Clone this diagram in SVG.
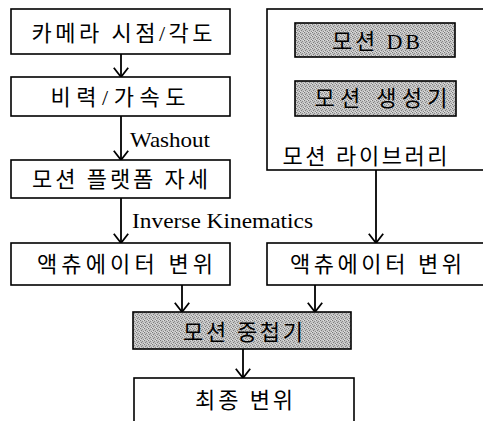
<svg xmlns="http://www.w3.org/2000/svg" width="483" height="421" viewBox="0 0 483 421">
<defs>
<style>
.box{fill:#fff;stroke:#000;stroke-width:1.6}
.gbox{fill:url(#dither);stroke:#000;stroke-width:1.6}
.t{font-family:"Liberation Serif","Noto Sans CJK KR",serif;font-size:22px;fill:#000;text-anchor:middle}
.lbl{font-family:"Liberation Serif","Noto Sans CJK KR",serif;font-size:21px;fill:#000}
.c{stroke:#000;stroke-width:1.8;fill:none;marker-end:url(#ah)}
</style>
<pattern id="dither" width="4" height="4" patternUnits="userSpaceOnUse">
<rect width="4" height="4" fill="#c4c4c4"/>
<rect x="0" y="0" width="1" height="1" fill="#7a7a7a"/>
<rect x="2" y="1" width="1" height="1" fill="#8a8a8a"/>
<rect x="1" y="2" width="1" height="1" fill="#808080"/>
<rect x="3" y="3" width="1" height="1" fill="#888"/>
<rect x="3" y="0" width="1" height="1" fill="#e0e0e0"/>
<rect x="0" y="3" width="1" height="1" fill="#e0e0e0"/>
</pattern>
<marker id="ah" viewBox="0 0 11 16" refX="10" refY="8" markerWidth="11" markerHeight="16" markerUnits="userSpaceOnUse" orient="auto">
<path d="M0.8,0.8 L10,8 L0.8,15.2" fill="none" stroke="#000" stroke-width="1.8"/>
</marker>
</defs>

<g id="connectors">
<line class="c" x1="121" y1="54" x2="121" y2="77"/>
<line class="c" x1="121" y1="116" x2="121" y2="160"/>
<line class="c" x1="121" y1="198" x2="121" y2="243"/>
<line class="c" x1="376" y1="170" x2="376" y2="243"/>
<line class="c" x1="182" y1="285" x2="182" y2="312"/>
<line class="c" x1="315" y1="285" x2="315" y2="312"/>
<line class="c" x1="243" y1="349" x2="243" y2="378"/>
<text class="lbl" x="130" y="147" textLength="80" lengthAdjust="spacingAndGlyphs">Washout</text>
<text class="lbl" x="132" y="228" textLength="181" lengthAdjust="spacingAndGlyphs">Inverse Kinematics</text>
</g>

<g id="camera">
<rect class="box" x="11" y="9" width="219" height="45"/>
<text class="t" x="122" y="41" textLength="181" lengthAdjust="spacing">카메라 시점/각도</text>
</g>
<g id="force">
<rect class="box" x="11" y="77" width="219" height="39"/>
<text class="t" x="118" y="105" textLength="135" lengthAdjust="spacing">비력/가속도</text>
</g>
<g id="platform">
<rect class="box" x="11" y="160" width="219" height="38"/>
<text class="t" x="120" y="187" textLength="176" lengthAdjust="spacing">모션 플랫폼 자세</text>
</g>
<g id="actuator-left">
<rect class="box" x="11" y="243" width="219" height="42"/>
<text class="t" x="125" y="272" textLength="176" lengthAdjust="spacing">액츄에이터 변위</text>
</g>

<g id="library">
<rect class="box" x="267" y="9" width="222" height="161"/>
<text class="t" x="365" y="164" textLength="165" lengthAdjust="spacing">모션 라이브러리</text>
</g>
<g id="motion-db">
<rect class="gbox" x="295" y="23" width="160" height="34"/>
<text class="t" x="376" y="49" textLength="88" lengthAdjust="spacing">모션 DB</text>
</g>
<g id="motion-gen">
<rect class="gbox" x="295" y="81" width="161" height="35"/>
<text class="t" x="381" y="106" textLength="133" lengthAdjust="spacing">모션 생성기</text>
</g>
<g id="actuator-right">
<rect class="box" x="267" y="243" width="222" height="42"/>
<text class="t" x="376" y="272" textLength="172" lengthAdjust="spacing">액츄에이터 변위</text>
</g>

<g id="blender">
<rect class="gbox" x="133" y="312" width="218" height="37"/>
<text class="t" x="243" y="340" textLength="120" lengthAdjust="spacing">모션 중첩기</text>
</g>
<g id="final">
<rect class="box" x="134" y="378" width="220" height="50"/>
<text class="t" x="244" y="408" textLength="98" lengthAdjust="spacing">최종 변위</text>
</g>
</svg>
